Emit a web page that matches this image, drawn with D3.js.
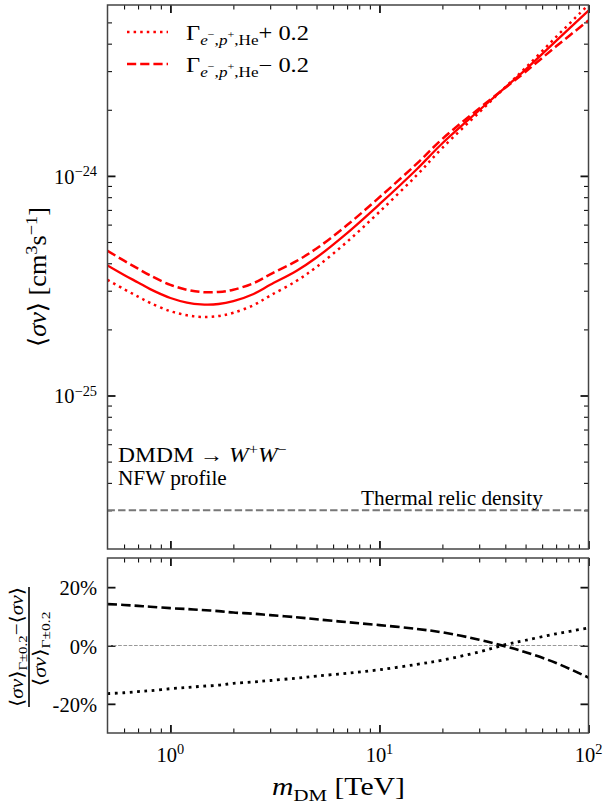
<!DOCTYPE html>
<html><head><meta charset="utf-8">
<script src="https://cdn.jsdelivr.net/npm/d3@7"></script>
<style>
html,body{margin:0;padding:0;background:#fff;}
svg{display:block;font-family:"Liberation Serif","Times New Roman",serif;}
</style></head><body>
<svg id="c" width="603" height="808"></svg>
<script>
// ---------------- data ----------------
const masses = [0.5,0.6,0.7,0.8,1.0,1.2,1.4,1.7,2.0,2.5,3.0,4.0,5.0,7.0,10,15,20,30,40,50,70,100];
const sigmaCentral = [3.91e-25,3.54e-25,3.27e-25,3.05e-25,2.78e-25,2.65e-25,2.60e-25,2.61e-25,2.69e-25,2.90e-25,3.19e-25,3.69e-25,4.25e-25,5.49e-25,7.43e-25,1.067e-24,1.408e-24,1.99e-24,2.53e-24,3.05e-24,4.12e-24,5.66e-24];
const sigmaMinus = [4.56e-25,4.11e-25,3.78e-25,3.52e-25,3.19e-25,3.03e-25,2.96e-25,2.96e-25,3.03e-25,3.25e-25,3.56e-25,4.09e-25,4.67e-25,5.97e-25,7.99e-25,1.131e-24,1.474e-24,2.03e-24,2.52e-24,2.98e-24,3.89e-24,5.10e-24];
const sigmaPlus = [3.36e-25,3.05e-25,2.82e-25,2.64e-25,2.42e-25,2.32e-25,2.28e-25,2.30e-25,2.38e-25,2.58e-25,2.85e-25,3.32e-25,3.85e-25,5.01e-25,6.86e-25,1.002e-24,1.341e-24,1.947e-24,2.538e-24,3.106e-24,4.292e-24,6.02e-24];
const ratioMinus = [14.2,13.9,13.6,13.3,12.8,12.5,12.2,11.8,11.3,10.9,10.4,9.7,9.0,8.0,7.0,5.7,4.5,2.0,-0.3,-2.3,-6.0,-11.0];
const ratioPlus = [-16.5,-16.2,-15.8,-15.5,-14.8,-14.4,-14.0,-13.6,-13.0,-12.5,-12.0,-11.2,-10.5,-9.5,-8.3,-6.5,-5.0,-2.2,0.3,1.8,4.0,6.0];
const thermalRelic = 3e-26;
const xMajorTicks = [1,10,100];
const xTickExp = ["0","1","2"];
const yMajorTicks = [1e-25,1e-24];
const yTickExp = ["\u221225","\u221224"];
const ratioTicks = [20,0,-20];
const ratioTickLabels = ["20%","0%","-20%"];
const legendLabels = ["+ 0.2","\u2212 0.2"];

// ---------------- layout ----------------
const svg = d3.select('#c');
const L=107.5, R=588.5, T1=5, B1=549, T2=558, B2=733;
const x = d3.scaleLog().domain([0.5,100]).range([L,R]);
const y = d3.scaleLog().domain([2e-26,6e-24]).range([B1,T1]);
const yr = d3.scaleLinear().domain([-30,30]).range([B2,T2]);

const xMinor=[]; [0.1,1,10].forEach(d=>{for(let k=2;k<=9;k++){const v=k*d; if(v>0.5&&v<100) xMinor.push(v);}});
const yMinor=[]; [1e-26,1e-25,1e-24].forEach(d=>{for(let k=2;k<=9;k++){const v=k*d; if(v>=2e-26*1.0001&&v<6e-24*0.9999) yMinor.push(v);}});

const defs = svg.append('defs');
defs.append('clipPath').attr('id','c1').append('rect').attr('x',L).attr('y',T1).attr('width',R-L).attr('height',B1-T1);
defs.append('clipPath').attr('id','c2').append('rect').attr('x',L).attr('y',T2).attr('width',R-L).attr('height',B2-T2);

function mathText(parent, parts, fs, anchor){
  const t = parent.append('text').attr('text-anchor',anchor||'start').attr('font-size',fs).attr('fill','#000');
  let cur=0;
  const conf={n:[0,1],b:[0.22,0.7],p:[-0.38,0.7],q:[-0.08,0.5]};
  parts.forEach(([s,f])=>{
    f=f||'';
    const lvl=f.includes('q')?'q':f.includes('b')?'b':f.includes('p')?'p':'n';
    const [off,sc]=conf[lvl];
    const target=off*fs;
    const sp=t.append('tspan').text(s).attr('dy',target-cur).attr('font-size',fs*sc);
    if(f.includes('i')) sp.attr('font-style','italic');
    if(f.includes('s')) sp.attr('font-family','DejaVu Serif');
    cur=target;
  });
  return t;
}
function label(tx,ty,rot,parts,fs,anchor,w){
  const g=svg.append('g').attr('transform',`translate(${tx},${ty}) rotate(${rot})`);
  const t=mathText(g,parts,fs,anchor);
  if(w){const bw=t.node().getBBox().width; if(bw>0) t.attr('transform',`scale(${w/bw},1)`);}
  return t;
}

// ---------------- axes (ticks, inward) ----------------
function ticks(axisFn, scale, vals, size, width, tr){
  const g=svg.append('g').attr('transform',tr)
    .call(axisFn(scale).tickValues(vals).tickSize(-size).tickFormat(''));
  g.select('.domain').remove();
  g.selectAll('line').attr('stroke','#111').attr('stroke-width',width);
}
// main panel
ticks(d3.axisBottom,x,xMajorTicks,8,1.8,`translate(0,${B1})`);
ticks(d3.axisBottom,x,xMinor,4.5,1.1,`translate(0,${B1})`);
ticks(d3.axisTop,x,xMajorTicks,8,1.8,`translate(0,${T1})`);
ticks(d3.axisTop,x,xMinor,4.5,1.1,`translate(0,${T1})`);
ticks(d3.axisLeft,y,yMajorTicks,8,1.8,`translate(${L},0)`);
ticks(d3.axisLeft,y,yMinor,4.5,1.1,`translate(${L},0)`);
ticks(d3.axisRight,y,yMajorTicks,8,1.8,`translate(${R},0)`);
ticks(d3.axisRight,y,yMinor,4.5,1.1,`translate(${R},0)`);
// ratio panel
ticks(d3.axisBottom,x,xMajorTicks,8,1.8,`translate(0,${B2})`);
ticks(d3.axisBottom,x,xMinor,4.5,1.1,`translate(0,${B2})`);
ticks(d3.axisTop,x,xMajorTicks,8,1.8,`translate(0,${T2})`);
ticks(d3.axisTop,x,xMinor,4.5,1.1,`translate(0,${T2})`);
ticks(d3.axisLeft,yr,ratioTicks,8,1.8,`translate(${L},0)`);
ticks(d3.axisRight,yr,ratioTicks,8,1.8,`translate(${R},0)`);

// ---------------- main panel lines ----------------
const main = svg.append('g').attr('clip-path','url(#c1)');
const lineMain = d3.line().x(d=>x(d[0])).y(d=>y(d[1])).curve(d3.curveCatmullRom.alpha(0.5));
main.append('line').attr('x1',x(0.5)).attr('x2',x(100)).attr('y1',y(thermalRelic)).attr('y2',y(thermalRelic))
  .attr('stroke','#777').attr('stroke-width',2).attr('stroke-dasharray','7.4,3.2');
main.append('path').attr('d',lineMain(masses.map((m,i)=>[m,sigmaCentral[i]])))
  .attr('fill','none').attr('stroke','#ff0000').attr('stroke-width',2.3);
main.append('path').attr('d',lineMain(masses.map((m,i)=>[m,sigmaMinus[i]])))
  .attr('fill','none').attr('stroke','#ff0000').attr('stroke-width',2.5).attr('stroke-dasharray','9.2,4');
main.append('path').attr('d',lineMain(masses.map((m,i)=>[m,sigmaPlus[i]])))
  .attr('fill','none').attr('stroke','#ff0000').attr('stroke-width',2.5).attr('stroke-dasharray','2.5,4.1');

// ---------------- ratio panel lines ----------------
const low = svg.append('g').attr('clip-path','url(#c2)');
const lineR = d3.line().x(d=>x(d[0])).y(d=>yr(d[1])).curve(d3.curveCatmullRom.alpha(0.5));
low.append('line').attr('x1',x(0.5)).attr('x2',x(100)).attr('y1',yr(0)).attr('y2',yr(0))
  .attr('stroke','#999').attr('stroke-width',1).attr('stroke-dasharray','3.7,1.6');
low.append('path').attr('d',lineR(masses.map((m,i)=>[m,ratioMinus[i]])))
  .attr('fill','none').attr('stroke','#000').attr('stroke-width',2.6).attr('stroke-dasharray','9.5,4');
low.append('path').attr('d',lineR(masses.map((m,i)=>[m,ratioPlus[i]])))
  .attr('fill','none').attr('stroke','#000').attr('stroke-width',2.8).attr('stroke-dasharray','2.8,4.6');

// ---------------- spines ----------------
[[T1,B1],[T2,B2]].forEach(([t,b])=>{
  svg.append('rect').attr('x',L).attr('y',t).attr('width',R-L).attr('height',b-t)
    .attr('fill','none').attr('stroke','#444').attr('stroke-width',1.5);
});

// ---------------- tick labels ----------------
yMajorTicks.forEach((v,i)=>label(97,y(v)+8,0,[["10"],[yTickExp[i],"p"]],20.5,'end'));
xMajorTicks.forEach((v,i)=>label(x(v),762,0,[["10"],[xTickExp[i],"p"]],20.5,'middle'));
ratioTicks.forEach((v,i)=>label(97,yr(v)+8,0,[[ratioTickLabels[i]]],20.5,'end'));

// ---------------- legend ----------------
const legY=[32,64], legDash=['2.5,4.1','9.2,4'];
legY.forEach((ly,i)=>{
  svg.append('line').attr('x1',127).attr('x2',168).attr('y1',ly).attr('y2',ly)
    .attr('stroke','#ff0000').attr('stroke-width',2.5).attr('stroke-dasharray',legDash[i]);
  label(186,ly+8,0,[["\u0393"],["e","bi"],["\u2212","q"],[",","b"],["p","bi"],["+","q"],[",He","b"],[legendLabels[i]]],20.5,'start',123);
});

// ---------------- annotations ----------------
label(118,462,0,[["DMDM "],["\u2192"],[" "],["W","i"],["+","p"],["W","i"],["\u2212","p"]],20,'start',169);
label(118,485,0,[["NFW profile"]],20,'start',109);
label(361,505,0,[["Thermal relic density"]],20,'start',182);

// ---------------- axis labels ----------------
label(272,795,0,[["m","i"],["DM","b"],[" [TeV]"]],25,'start',133);
label(46,277,-90,[["\u27E8","s"],["\u03C3v","i"],["\u27E9","s"],[" [cm"],["3","p"],["s"],["\u22121","p"],["]"]],25,'middle',140);
// ratio label as a fraction
label(22.5,647,-90,[["\u27E8","s"],["\u03C3v","i"],["\u27E9","s"],["\u0393\u00B10.2","b"],["\u2212"],["\u27E8","s"],["\u03C3v","i"],["\u27E9","s"]],19,'middle',120);
svg.append('line').attr('x1',29).attr('x2',29).attr('y1',587).attr('y2',707).attr('stroke','#000').attr('stroke-width',1.6);
label(46,649,-90,[["\u27E8","s"],["\u03C3v","i"],["\u27E9","s"],["\u0393\u00B10.2","b"]],19,'middle',75);
</script></body></html>
